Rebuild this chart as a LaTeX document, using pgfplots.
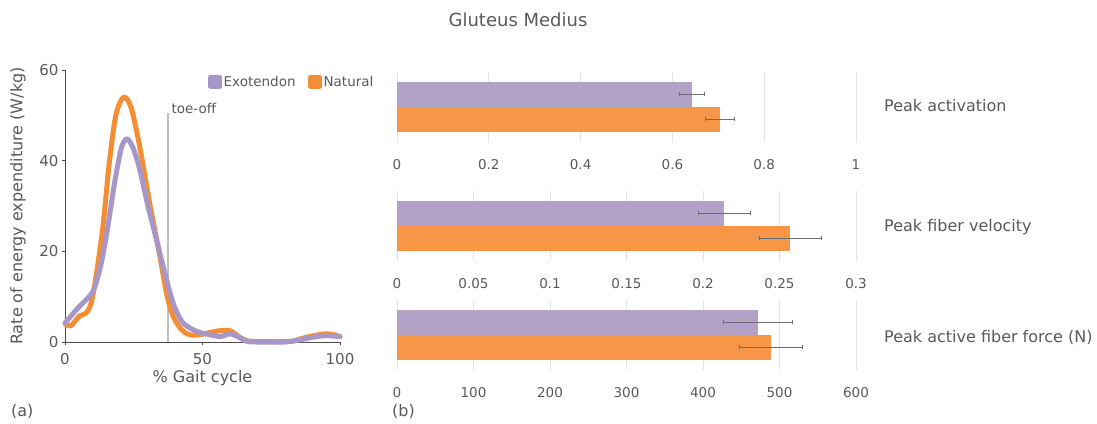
\documentclass[border=0pt]{standalone}
\usepackage{fontspec}
\setmainfont{DejaVu Sans}
\usepackage{pgfplots}
\pgfplotsset{compat=1.18}
\definecolor{txt}{HTML}{595959}
\definecolor{exoL}{HTML}{A797C9}
\definecolor{natL}{HTML}{F58D33}
\definecolor{exoB}{HTML}{B3A2C7}
\definecolor{natB}{HTML}{F79646}
\definecolor{gridc}{HTML}{E3E3E3}
\definecolor{toe}{HTML}{BFBFBF}
\definecolor{errc}{HTML}{6E6E6E}
\newcommand{\fs}[1]{\fontsize{#1}{#1}\selectfont}
\pgfplotsset{
  barax/.style={
    anchor=south west, scale only axis, width=459pt, height=70pt,
    ymin=-0.9, ymax=1.9, ytick=\empty,
    axis line style={draw=none}, major tick length=0pt, tick style={draw=none},
    xmajorgrids, grid style={draw=gridc, line width=1pt},
    scaled x ticks=false,
    xticklabel style={font=\fs{13.5}, text=txt, yshift=-14pt},
    /pgf/number format/assume math mode=true,
  },
  ebar/.style={xbar, bar shift=0pt, bar width=25pt, draw=none, fill=#1,
    error bars/.cd, x dir=both, x explicit, error mark=|,
    error bar style={draw=errc, line width=0.7pt},
    error mark options={draw=errc, line width=0.7pt, mark size=2pt}},
}
\begin{document}
\begin{tikzpicture}[text=txt]
\path[use as bounding box] (0,0) rectangle (1097pt,423pt);
\node[anchor=base, font=\fs{18}] at (518pt,396pt) {Gluteus Medius};
\node[anchor=west, font=\fs{16}, inner sep=0pt] at (11pt,12pt) {(a)};
\node[anchor=west, font=\fs{16}, inner sep=0pt] at (392pt,12pt) {(b)};
\node[anchor=base west, font=\fs{16}, inner sep=0pt] at (884pt,311pt) {Peak activation};
\node[anchor=base west, font=\fs{16}, inner sep=0pt] at (884pt,191pt) {Peak fiber velocity};
\node[anchor=base west, font=\fs{16}, inner sep=0pt] at (884pt,81pt) {Peak active fiber force (N)};

\begin{axis}[at={(65pt,81pt)}, anchor=south west, scale only axis,
  width=275pt, height=272pt, xmin=0, xmax=100, ymin=0, ymax=60,
  axis x line*=bottom, axis y line*=left,
  axis line style={draw=black!70, line width=0.8pt, -},
  xtick={0,50,100}, ytick={0,20,40,60},
  tick align=outside, major tick length=3pt, tick style={draw=black!70, line width=0.8pt},
  ticklabel style={font=\fs{15}, text=txt},
  xticklabel style={yshift=-5pt},
  /pgf/number format/assume math mode=true,
  xlabel={\% Gait cycle}, ylabel={Rate of energy expenditure (W/kg)},
  label style={font=\fs{16}, text=txt},
  x label style={at={(axis description cs:0.5,-0.132)}, anchor=center},
  y label style={at={(axis description cs:-0.171,0.5)}, anchor=center},
  clip=false,
  legend style={at={(axis description cs:0.52,0.985)}, anchor=north west,
    draw=none, fill=none, font=\fs{13.5}, text=txt, inner sep=0pt,
    nodes={inner sep=1.5pt},
    /tikz/every even column/.append style={column sep=11pt}},
  legend columns=2, legend cell align=left,
  legend image code/.code={\fill[#1] (0pt,-4.5pt) rectangle (9pt,4.5pt);},
  reverse legend,
]
\addplot[toe, line width=2pt, forget plot] coordinates {(37.3,0) (37.3,50.5)};
\node[anchor=west, inner sep=0pt, font=\fs{13.5}, text=txt] at (axis cs:38.7,51.6) {toe-off};
\addplot[natL, line width=5pt, smooth, line cap=round, line join=round] coordinates {
(0,4.0) (2.2,3.6) (5.2,5.7) (7.7,6.4) (9.5,8.6) (11.3,14.5) (13.8,25.5) (16.2,40)
(18.6,50.3) (21.4,54) (24.1,51.6) (27.2,43) (30.8,30.6) (34.5,18.9) (36.9,10.8)
(39.3,5.7) (42.4,2.7) (45.4,1.6) (49,1.6) (52.7,2.1) (56.4,2.5) (60,2.5) (63.1,1.2)
(66.1,0.3) (70,0.1) (78,0.1) (83,0.2) (85.6,0.7) (90.5,1.4) (94.8,1.8) (97.8,1.6) (100,1.2)};
\addlegendentry{Natural}
\addplot[exoL, line width=5pt, smooth, line cap=round, line join=round] coordinates {
(0,4.2) (3.4,6.6) (5.8,8.2) (8.3,9.7) (10.7,11.9) (13.2,17.4) (15.6,25.5) (18,35)
(20.5,42.8) (22.5,44.8) (24.7,42.9) (27.2,38) (30.2,29.9) (33.3,22.5) (36.3,15.2)
(39.3,8.6) (42.4,4.6) (45.4,3.1) (49,2.1) (52.7,1.6) (56.4,1.2) (60,1.8) (63.1,1.1)
(66.1,0.15) (70,0) (80,0) (85.6,0.5) (90.5,1.1) (94.8,1.4) (100,1.2)};
\addlegendentry{Exotendon}
\end{axis}

\begin{axis}[barax, at={(397pt,281pt)}, xmin=0, xmax=1,
  xtick={0,0.2,0.4,0.6,0.8,1}, xticklabels={0,0.2,0.4,0.6,0.8,1}]
\addplot[ebar=natB] coordinates {(0.703,0) +- (0.031,0)};
\addplot[ebar=exoB] coordinates {(0.642,1) +- (0.027,0)};
\end{axis}

\begin{axis}[barax, at={(397pt,162pt)}, xmin=0, xmax=0.3,
  xtick={0,0.05,0.1,0.15,0.2,0.25,0.3}, xticklabels={0,0.05,0.1,0.15,0.2,0.25,0.3}]
\addplot[ebar=natB] coordinates {(0.257,0) +- (0.0205,0)};
\addplot[ebar=exoB] coordinates {(0.214,1) +- (0.017,0)};
\end{axis}

\begin{axis}[barax, at={(397pt,53pt)}, xmin=0, xmax=600,
  xtick={0,100,200,300,400,500,600}, xticklabels={0,100,200,300,400,500,600}]
\addplot[ebar=natB] coordinates {(489,0) +- (41,0)};
\addplot[ebar=exoB] coordinates {(472,1) +- (45,0)};
\end{axis}
\end{tikzpicture}
\end{document}
